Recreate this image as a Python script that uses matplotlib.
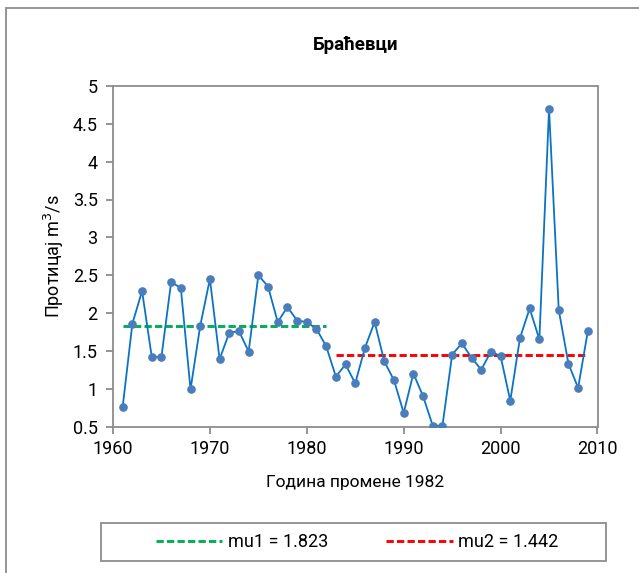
import matplotlib
matplotlib.use("Agg")
import matplotlib.pyplot as plt
from matplotlib.patches import Rectangle
from matplotlib.lines import Line2D

plt.rcParams['font.family'] = ['Roboto', 'DejaVu Sans']

years = list(range(1961, 2010))
flow = [0.76, 1.86, 2.29, 1.42, 1.42, 2.41, 2.33, 0.99, 1.83, 2.45,
        1.39, 1.74, 1.76, 1.49, 2.50, 2.35, 1.88, 2.08, 1.90, 1.88,
        1.79, 1.56, 1.16, 1.32, 1.07, 1.54, 1.88, 1.36, 1.11, 0.68,
        1.20, 0.90, 0.51, 0.51, 1.45, 1.60, 1.41, 1.25, 1.49, 1.43,
        0.84, 1.67, 2.06, 1.65, 4.70, 2.04, 1.33, 1.01, 1.76]
change_year = 1982
mu1 = 1.823
mu2 = 1.442

fig = plt.figure(figsize=(6.39, 5.73), dpi=100)
W, H = 639, 573
dash = (0, (2.5, 1.1))

# outer chart frame
fig.patches.append(Rectangle((6 / W, -0.05), 1.2, 1 - 8 / H + 0.05,
                             transform=fig.transFigure, fill=False,
                             edgecolor='#8c8c8c', linewidth=1.3))

ax = fig.add_axes([113 / W, 1 - 426.5 / H, (597.5 - 113) / W, (426.5 - 86) / H])
ax.plot(years, flow, color='#0A74C4', linewidth=1.3, marker='o',
        markersize=5.2, markerfacecolor='#4A7EBB', markeredgecolor='#4A7EBB',
        zorder=3)
ax.plot([years[0], change_year], [mu1, mu1], color='#00B050',
        linestyle=dash, linewidth=2.1, zorder=2)
ax.plot([change_year + 1, years[-1]], [mu2, mu2], color='#FF0000',
        linestyle=dash, linewidth=2.1, zorder=2)

ax.set_xlim(1960, 2010)
ax.set_ylim(0.5, 5)
ax.set_xticks(range(1960, 2011, 10))
ax.set_yticks([0.5, 1, 1.5, 2, 2.5, 3, 3.5, 4, 4.5, 5])
ax.set_yticklabels(['0.5', '1', '1.5', '2', '2.5', '3', '3.5', '4', '4.5', '5'])
for s in ax.spines.values():
    s.set_color('#8c8c8c')
    s.set_linewidth(1.3)
ax.tick_params(colors='#8c8c8c', labelcolor='black', labelsize=13,
               length=5, width=1.3, direction='out')
ax.tick_params(axis='x', pad=5)
ax.tick_params(axis='y', pad=6)

ax.set_title('Браћевци', fontsize=13.5, fontweight='bold', pad=26)
ax.set_ylabel('Протицај m$^3$/s', fontsize=13, labelpad=5)
ax.set_xlabel('Година промене 1982', fontsize=12.5, labelpad=12)

# legend box
fig.patches.append(Rectangle((101 / W, 1 - 561 / H), 505 / W, 38 / H,
                             transform=fig.transFigure, fill=False,
                             edgecolor='#8c8c8c', linewidth=1.3))
handles = [Line2D([], [], color='#00B050', linestyle=dash, linewidth=2.1),
           Line2D([], [], color='#FF0000', linestyle=dash, linewidth=2.1)]
fig.legend(handles, [f'mu1 = {mu1}', f'mu2 = {mu2}'], loc='center',
           bbox_to_anchor=(357 / W, 1 - 542 / H), ncol=2, frameon=False,
           fontsize=13, handlelength=3.7, handletextpad=0.3,
           columnspacing=3.2)

fig.savefig('out.png', dpi=100)
